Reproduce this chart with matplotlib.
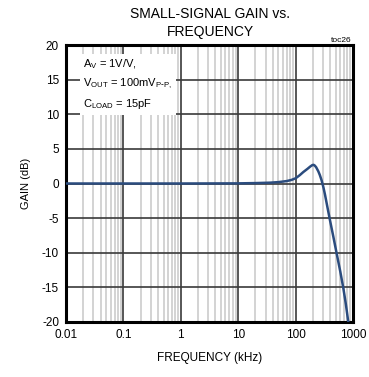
import matplotlib
matplotlib.use("Agg")
import matplotlib.pyplot as plt
from matplotlib.ticker import LogLocator, FixedLocator, NullFormatter

plt.rcParams['font.family'] = ['Liberation Sans', 'DejaVu Sans']

freq_khz = [0.01, 0.1, 1, 10, 20, 36, 50, 70, 85, 100, 118, 136, 160, 180,
            195, 205, 215, 228, 249, 265, 284, 305, 325, 360, 397, 455, 519,
            600, 678, 750, 828]
gain_db = [0.0, 0.0, 0.0, 0.02, 0.06, 0.12, 0.2, 0.35, 0.52, 0.75, 1.2, 1.65,
           2.1, 2.45, 2.65, 2.7, 2.6, 2.35, 1.75, 1.2, 0.45, -0.55, -1.6, -3.5,
           -5.3, -7.7, -10.1, -12.7, -15.1, -17.4, -20.0]

xticks = [0.01, 0.1, 1, 10, 100, 1000]
xticklabels = ["0.01", "0.1", "1", "10", "100", "1000"]
yticks = [-20, -15, -10, -5, 0, 5, 10, 15, 20]

fig = plt.figure(figsize=(3.69, 3.77), dpi=100)
ax = fig.add_axes([66/369, 1-322/377, (353-66)/369, (322-45)/377])
ax.set_xscale('log')
ax.set_xlim(0.01, 1000)
ax.set_ylim(-20, 20)

ax.xaxis.set_major_locator(FixedLocator(xticks))
ax.set_xticklabels(xticklabels)
ax.xaxis.set_minor_locator(LogLocator(base=10, subs=range(2, 10), numticks=20))
ax.xaxis.set_minor_formatter(NullFormatter())
ax.set_yticks(yticks)
ax.set_yticklabels([str(v) for v in yticks])

ax.grid(which='minor', axis='x', color='#cccccc', linewidth=1.2)
ax.grid(which='major', axis='x', color='#3a3a3a', linewidth=1.2)
ax.grid(which='major', axis='y', color='#3a3a3a', linewidth=1.2)
ax.set_axisbelow(True)

ax.tick_params(which='both', length=0, labelsize=8.5, pad=5)
for s in ax.spines.values():
    s.set_linewidth(2.2)
    s.set_color('black')

ax.plot(freq_khz, gain_db, color='#2b4c7e', linewidth=1.8, zorder=3,
        solid_joinstyle='round')

lines = ["A$\\mathregular{_V}$ = 1V/V,",
         "V$\\mathregular{_{OUT}}$ = 100mV$\\mathregular{_{P\\text{-}P,}}$",
         "C$\\mathregular{_{LOAD}}$ = 15pF"]
ax.text(0.06, 0.955, "\n".join(lines), transform=ax.transAxes, fontsize=8,
        va='top', ha='left', linespacing=1.6,
        bbox=dict(facecolor='white', edgecolor='none', pad=2.5), zorder=4)

fig.text(210/369, 1-14/377, "SMALL-SIGNAL GAIN vs.", ha='center', va='center', fontsize=10)
fig.text(210/369, 1-32/377, "FREQUENCY", ha='center', va='center', fontsize=10)
fig.text(352/369, 1-40/377, "toc26", ha='right', va='center', fontsize=6)
ax.set_xlabel("FREQUENCY (kHz)", fontsize=8.5, labelpad=8)
ax.set_ylabel("GAIN (dB)", fontsize=8, labelpad=8)

fig.savefig("out.png", dpi=100)
